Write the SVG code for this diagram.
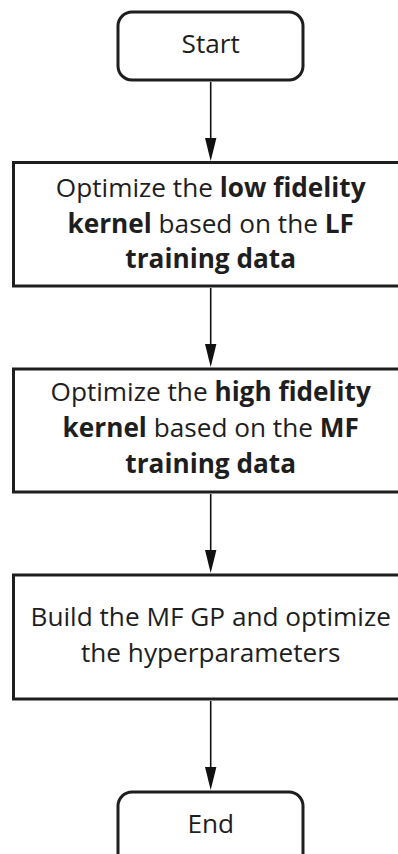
<svg xmlns="http://www.w3.org/2000/svg" width="398" height="854" viewBox="0 0 398 854">
<defs>
<style>
.box{fill:#fff;stroke:#1e1e1e;stroke-width:3}
.t{font-family:"Open Sans","Noto Sans","Liberation Sans",sans-serif;font-size:26.2px;fill:#1e1e1e;text-anchor:middle}
.b{font-weight:bold}
.c{stroke:#111;stroke-width:1.6;fill:none}
.h{fill:#111}
</style>
</defs>
<rect width="398" height="854" fill="#fff"/>
<g id="connectors">
<line class="c" x1="210.7" y1="82" x2="210.7" y2="140"/>
<polygon class="h" points="205,138 216.4,138 210.7,161"/>
<line class="c" x1="210.7" y1="288" x2="210.7" y2="346"/>
<polygon class="h" points="205,344 216.4,344 210.7,367"/>
<line class="c" x1="210.7" y1="494" x2="210.7" y2="552"/>
<polygon class="h" points="205,550 216.4,550 210.7,573"/>
<line class="c" x1="210.7" y1="701" x2="210.7" y2="769"/>
<polygon class="h" points="205,767 216.4,767 210.7,790"/>
</g>
<g id="start">
<rect class="box" x="118" y="12" width="185" height="68" rx="14"/>
<text class="t" x="210.7" y="53">Start</text>
</g>
<g id="lf">
<rect class="box" x="13.5" y="162.5" width="396" height="123.5"/>
<text class="t" x="210.7" y="197">Optimize the <tspan class="b">low fidelity</tspan></text>
<text class="t" x="210.7" y="233"><tspan class="b">kernel</tspan> based on the <tspan class="b">LF</tspan></text>
<text class="t" x="210.7" y="268"><tspan class="b">training data</tspan></text>
</g>
<g id="hf">
<rect class="box" x="13.5" y="369" width="396" height="123"/>
<text class="t" x="210.7" y="401">Optimize the <tspan class="b">high fidelity</tspan></text>
<text class="t" x="210.7" y="437"><tspan class="b">kernel</tspan> based on the <tspan class="b">MF</tspan></text>
<text class="t" x="210.7" y="473"><tspan class="b">training data</tspan></text>
</g>
<g id="mf">
<rect class="box" x="13.5" y="575" width="396" height="124"/>
<text class="t" x="210.7" y="626">Build the MF GP and optimize</text>
<text class="t" x="210.7" y="662">the hyperparameters</text>
</g>
<g id="end">
<rect class="box" x="118" y="792" width="185" height="80" rx="14"/>
<text class="t" x="210.7" y="833">End</text>
</g>
</svg>
